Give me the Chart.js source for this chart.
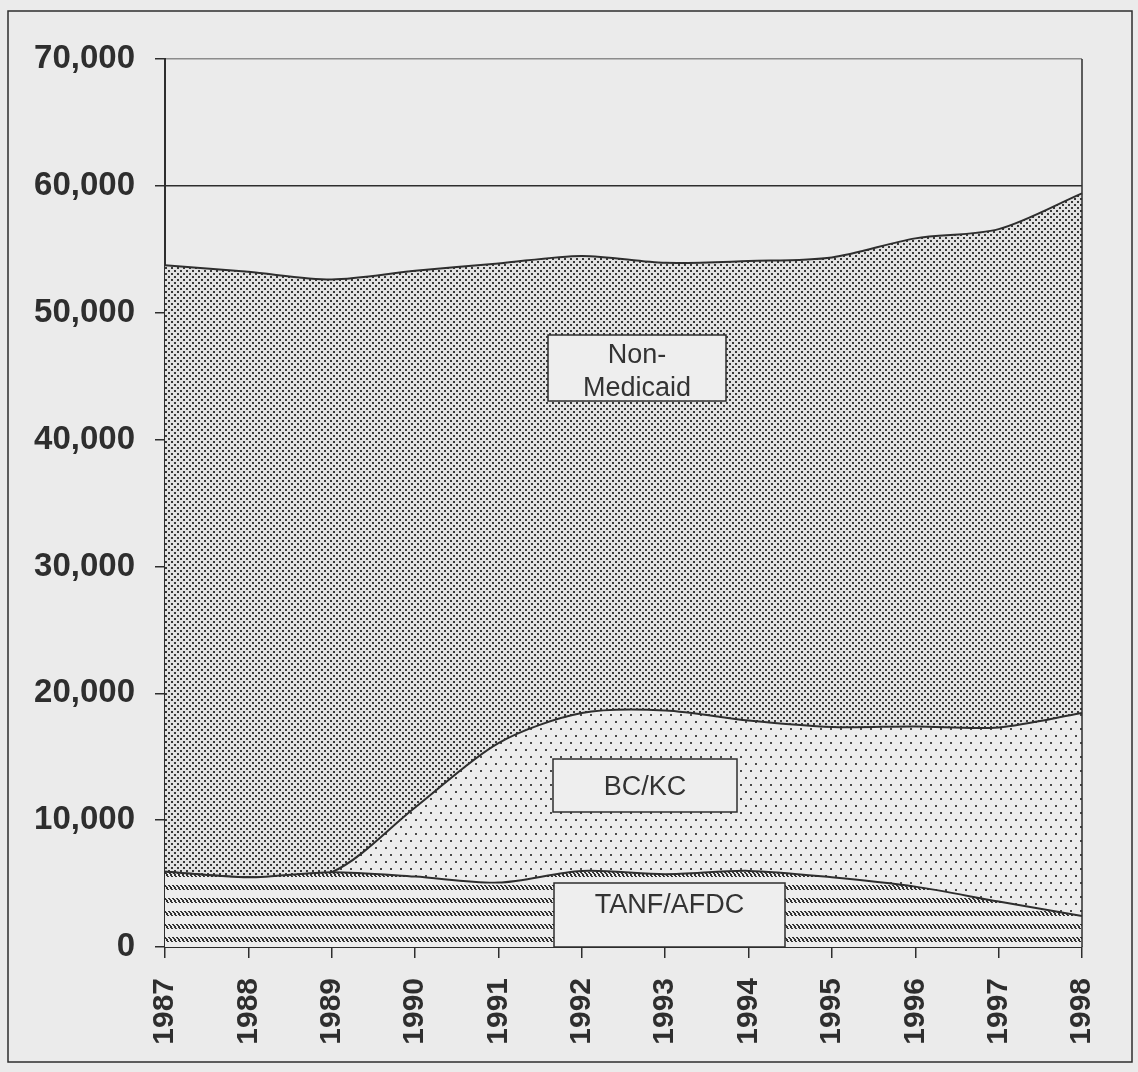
<!DOCTYPE html>
<html>
<head>
<meta charset="utf-8">
<title>Enrollment by program, 1987-1998</title>
<script src="https://cdn.jsdelivr.net/npm/chart.js@4.4.0/dist/chart.umd.min.js"></script>
<style>
  html, body { margin: 0; padding: 0; background: #ebebeb; }
  #wrap { width: 1138px; height: 1072px; }
</style>
</head>
<body>
<div id="wrap"><canvas id="chart" width="1138" height="1072"></canvas></div>
<script>
/* ================= DATA ================= */
const years = ["1987", "1988", "1989", "1990", "1991", "1992",
               "1993", "1994", "1995", "1996", "1997", "1998"];

// stacked from the bottom up
const tanf        = [5940, 5500, 5900, 5550, 5080, 6000, 5740, 6000, 5500, 4760, 3580, 2450];
const bckc        = [0, 0, 0, 5450, 11000, 12440, 12910, 11850, 11840, 12630, 13730, 15990];
const nonMedicaid = [47810, 47720, 46720, 42300, 37800, 36040, 35280, 36220, 37020, 38470, 39280, 40970];

const yTicks = [0, 10000, 20000, 30000, 40000, 50000, 60000, 70000];

/* ================= STYLE ================= */
const FONT = "'Liberation Sans', Arial, Helvetica, sans-serif";
const INK  = "#2e2e2e";
const PAPER = "#ebebeb";

const canvas = document.getElementById("chart");
const ctx = canvas.getContext("2d");

function makePattern(w, h, draw) {
  const c = document.createElement("canvas");
  c.width = w; c.height = h;
  const g = c.getContext("2d");
  draw(g, w, h);
  return ctx.createPattern(c, "repeat");
}

// dense dots
const densePat = makePattern(6, 6, (g, w, h) => {
  g.fillStyle = "#e2e2e2"; g.fillRect(0, 0, w, h);
  g.fillStyle = "#383838";
  g.fillRect(0, 0, 2, 2);
  g.fillRect(3, 3, 2, 2);
});

// sparse dots
const sparsePat = makePattern(10, 14, (g, w, h) => {
  g.fillStyle = "#ededed"; g.fillRect(0, 0, w, h);
  g.fillStyle = "#4a4a4a";
  g.fillRect(0, 0, 2, 2);
  g.fillRect(5, 7, 2, 2);
});

// bands of short back-slashes, drawn pixel by pixel so they stay crisp
const hatchPat = makePattern(4, 13, (g, w, h) => {
  g.fillStyle = "#ededed"; g.fillRect(0, 0, w, h);
  g.fillStyle = "#333333";
  const shift = [0, 1, 2, 2, 3];
  shift.forEach((x0, r) => {
    for (let dx = 0; dx < 2; dx++) g.fillRect((x0 + dx) % w, r + 1, 1, 1);
  });
});

/* ================= PLUGINS ================= */
const pagePlugin = {
  id: "page",
  beforeDraw(chart) {
    const c = chart.ctx;
    c.save();
    c.fillStyle = PAPER;
    c.fillRect(0, 0, chart.width, chart.height);
    c.restore();
  },
  afterDraw(chart) {
    const c = chart.ctx;
    c.save();
    c.strokeStyle = INK;
    c.lineWidth = 1.5;
    c.strokeRect(8, 11, 1124, 1051);
    c.restore();
  }
};

const boxes = [
  { lines: ["Non-", "Medicaid"], x: 548, y: 335, w: 178, h: 66, base: [363, 396] },
  { lines: ["BC/KC"],            x: 553, y: 759, w: 184, h: 53, base: [795] },
  { lines: ["TANF/AFDC"],        x: 554, y: 883, w: 231, h: 64, base: [913] }
];

const labelPlugin = {
  id: "labels",
  afterDatasetsDraw(chart) {
    const c = chart.ctx;
    const a = chart.chartArea;
    c.save();
    // right edge of the plot
    c.strokeStyle = INK;
    c.lineWidth = 1.5;
    c.beginPath();
    c.moveTo(a.right, a.top);
    c.lineTo(a.right, a.bottom);
    c.stroke();

    c.font = "27px " + FONT;
    c.textAlign = "center";
    c.textBaseline = "alphabetic";
    boxes.forEach(b => {
      c.fillStyle = "#eeeeee";
      c.fillRect(b.x, b.y, b.w, b.h);
      c.strokeStyle = INK;
      c.lineWidth = 1.5;
      c.strokeRect(b.x, b.y, b.w, b.h);
      c.fillStyle = "#333";
      b.lines.forEach((t, i) => c.fillText(t, b.x + b.w / 2, b.base[i]));
    });
    c.restore();
  }
};

/* ================= CHART ================= */
const line = { borderColor: INK, borderWidth: 2, pointRadius: 0, tension: 0.3 };

new Chart(ctx, {
  type: "line",
  data: {
    labels: years,
    datasets: [
      { label: "TANF/AFDC",    data: tanf,        fill: "origin", backgroundColor: hatchPat,  ...line },
      { label: "BC/KC",        data: bckc,        fill: "-1",     backgroundColor: sparsePat, ...line },
      { label: "Non-Medicaid", data: nonMedicaid, fill: "-1",     backgroundColor: densePat,  ...line }
    ]
  },
  options: {
    responsive: false,
    animation: false,
    layout: { padding: { top: 59, right: 53, left: 0, bottom: 0 } },
    plugins: {
      legend: { display: false },
      tooltip: { enabled: false }
    },
    scales: {
      x: {
        offset: false,
        grid: { display: true, drawOnChartArea: false, drawTicks: true, tickLength: 11, color: INK, lineWidth: 1.5 },
        border: { display: true, color: INK, width: 2 },
        ticks: {
          minRotation: 90, maxRotation: 90, padding: 20, color: INK,
          font: { family: FONT, size: 30, weight: "bold" }
        },
        afterFit: s => { s.height = 125; }
      },
      y: {
        stacked: true,
        min: 0,
        max: 70000,
        afterBuildTicks: s => { s.ticks = yTicks.map(v => ({ value: v })); },
        grid: {
          color: c => (c.tick && c.tick.value === 70000) ? "#8c8c8c" : INK,
          lineWidth: 1.5,
          tickLength: 10,
          tickColor: INK
        },
        border: { display: true, color: INK, width: 2 },
        ticks: {
          padding: 20, color: INK,
          font: { family: FONT, size: 33, weight: "bold" },
          callback: v => v.toLocaleString("en-US")
        },
        afterFit: s => { s.width = 165; }
      }
    }
  },
  plugins: [pagePlugin, labelPlugin]
});
</script>
</body>
</html>
